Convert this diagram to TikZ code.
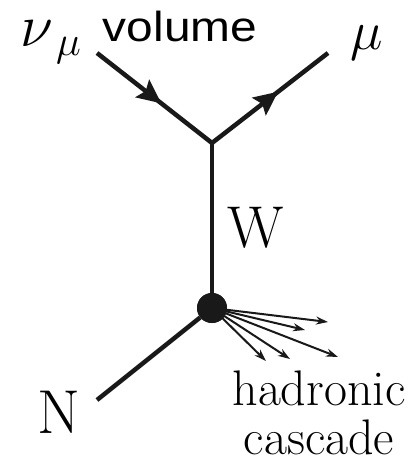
\RequirePackage{fix-cm}
\documentclass[tikz,border=0pt]{standalone}
\usepackage{fontspec}
\newfontfamily\labelsans{Liberation Sans}
\usetikzlibrary{arrows.meta,decorations.markings}

\begin{document}
\begin{tikzpicture}[
            x=1pt, y=-1pt,
            line/.style={line width=4.5pt, black!90},
            fermion/.style={line, postaction={decorate},
                            decoration={markings,
                              mark=at position #1 with {\arrow{Stealth[length=24pt,width=22pt,inset=4pt]}}}},
            hadron/.style={-{Stealth[length=12pt,width=8pt]}, line width=2pt, black!90},
            serif/.style={inner sep=0pt, anchor=base},
            every node/.style={inner sep=0pt}
        ]
        \useasboundingbox (0,0) rectangle (414,465);

        % Vertices and free ends
        \coordinate (nuin) at (97,53);
        \coordinate (vtx) at (212,143);
        \coordinate (muout) at (328,53);
        \coordinate (nucl) at (97,400);
        \node[circle, fill=black!90, minimum size=30pt] (blob) at (212,308) {};

        % Hadronic cascade
        \foreach \x/\y [count=\i] in {328/322, 305/330, 338/357, 290/359, 266/361} {
            \coordinate (h\i) at (\x,\y);
            \draw[hadron] (blob.center) -- (h\i);
        }
        \node[circle, fill=black!90, minimum size=30pt] at (blob) {};

        % Lines
        \draw[fermion=0.56] (nuin) -- (vtx);
        \draw[fermion=0.57] (vtx) -- (muout);
        \draw[line] (vtx) -- (blob);
        \draw[line] (nucl) -- (blob);

        % Labels
        \node[anchor=base west] (nulab) at (20,47) {\fontsize{60}{64}\selectfont$\nu_{\,\mu}$};
        \node[anchor=base west] (mulab) at (350,50) {\fontsize{55}{60}\selectfont$\mu$};
        \node[anchor=base, xscale=1.14] (vol) at (180,42) {\labelsans\fontsize{42}{46}\selectfont volume};
        \node[serif] (wlab) at (255.5,247) {\fontsize{59}{64}\selectfont W};
        \node[serif] (nlab) at (59,433) {\fontsize{62}{66}\selectfont N};
        \node[serif] (had) at (319,405) {\fontsize{50}{54}\selectfont hadronic};
        \node[serif] (cas) at (319,454) {\fontsize{50}{54}\selectfont cascade};

\end{tikzpicture}
\end{document}
